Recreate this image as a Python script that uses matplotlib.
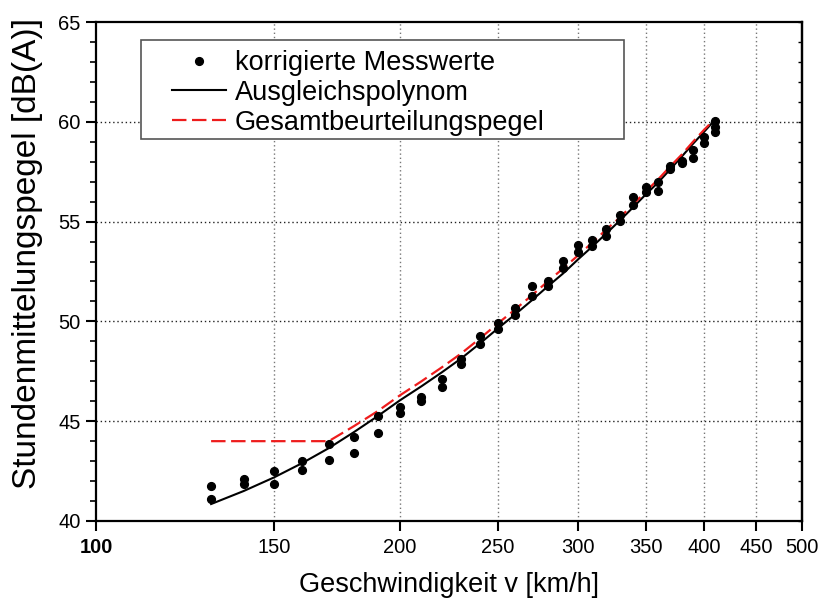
import numpy as np
import matplotlib
matplotlib.use('Agg')
import matplotlib.pyplot as plt
from matplotlib.patches import Rectangle
from matplotlib.ticker import FixedLocator, NullFormatter, MultipleLocator

plt.rcParams['font.family'] = ['Liberation Sans', 'DejaVu Sans']

v_mess = [130, 130, 140, 140, 150, 150, 160, 160, 170, 170, 180, 180, 190, 190,
          200, 200, 210, 210, 220, 220, 230, 230, 240, 240, 250, 250, 260, 260,
          270, 270, 280, 280, 290, 290, 300, 300, 310, 310, 320, 320, 330, 330,
          340, 340, 350, 350, 360, 360, 370, 370, 380, 380, 390, 390, 400, 400,
          410, 410, 410]
L_mess = [41.75, 41.08, 42.12, 41.87, 42.50, 41.85, 43.00, 42.58, 43.87, 43.08,
          44.22, 43.42, 45.27, 44.43, 45.72, 45.43, 46.22, 46.00, 47.10, 46.73,
          48.13, 47.88, 49.27, 48.85, 49.93, 49.62, 50.67, 50.33, 51.78, 51.25,
          52.03, 51.75, 53.02, 52.70, 53.83, 53.47, 54.08, 53.80, 54.63, 54.27,
          55.32, 55.05, 56.23, 55.82, 56.75, 56.47, 56.98, 56.53, 57.78, 57.65,
          58.05, 57.95, 58.60, 58.20, 59.22, 58.92, 60.02, 59.75, 59.50]

# Ausgleichspolynom
v_fit = [130, 140, 150, 160, 170, 180, 190, 200, 210, 220, 230, 240, 250, 260,
         270, 280, 290, 300, 310, 320, 330, 340, 350, 360, 370, 380, 390, 400, 410]
L_fit = [40.85, 41.50, 42.18, 42.90, 43.65, 44.45, 45.25, 46.05, 46.75, 47.45,
         48.15, 48.90, 49.65, 50.35, 51.05, 51.75, 52.40, 53.10, 53.75, 54.40,
         55.05, 55.70, 56.35, 56.95, 57.60, 58.25, 58.90, 59.50, 60.10]

# Gesamtbeurteilungspegel
v_ges = [130, 170, 180, 190, 200, 210, 220, 230, 240, 250, 260, 270, 280, 290,
         300, 310, 320, 330, 340, 350, 360, 370, 380, 390, 400, 410]
L_ges = [44.00, 44.00, 44.75, 45.50, 46.30, 47.00, 47.70, 48.40, 49.15, 49.90,
         50.60, 51.30, 52.00, 52.65, 53.30, 53.95, 54.60, 55.20, 55.85, 56.50,
         57.10, 57.75, 58.35, 59.00, 59.60, 60.15]

x_ticks = [100, 150, 200, 250, 300, 350, 400, 450, 500]

fig = plt.figure(figsize=(8.2, 5.99), dpi=100)
ax = fig.add_axes([96 / 820, 1 - 521 / 599, 706 / 820, 499 / 599])

ax.plot(v_mess, L_mess, 'o', color='black', markersize=5.6, label='korrigierte Messwerte', zorder=4)
ax.plot(v_fit, L_fit, '-', color='black', linewidth=1.5, label='Ausgleichspolynom', zorder=3)
ax.plot(v_ges, L_ges, '--', color='#ee1c1c', linewidth=1.6, dashes=(6.5, 2.5),
        label='Gesamtbeurteilungspegel', zorder=3)

ax.set_xscale('log')
ax.set_xlim(100, 500)
ax.set_ylim(40, 65)

ax.xaxis.set_major_locator(FixedLocator(x_ticks))
ax.xaxis.set_minor_locator(FixedLocator([]))
ax.xaxis.set_minor_formatter(NullFormatter())
ax.set_xticklabels([str(t) for t in x_ticks])
ax.get_xticklabels()[0].set_fontweight('bold')
ax.yaxis.set_major_locator(MultipleLocator(5))
ax.yaxis.set_minor_locator(MultipleLocator(1))

ax.tick_params(axis='x', which='major', direction='out', length=7, width=1.5,
               labelsize=14.5, pad=5)
ax.tick_params(axis='y', which='major', direction='out', length=7, width=1.5,
               labelsize=14.5, pad=4)
ax.tick_params(axis='y', which='minor', direction='out', length=4, width=1.2)

# small inward ticks on the right frame
sec = ax.secondary_yaxis('right')
sec.yaxis.set_major_locator(MultipleLocator(5))
sec.yaxis.set_minor_locator(MultipleLocator(1))
sec.tick_params(which='both', direction='in', length=3, width=1.0, labelright=False)
sec.spines['right'].set_linewidth(1.6)

for s in ax.spines.values():
    s.set_linewidth(1.6)

for t in x_ticks[1:-1]:
    ax.axvline(t, color='#777777', linestyle=(0, (1, 2)), linewidth=1.0, zorder=1)
for t in [45, 50, 55, 60]:
    ax.axhline(t, color='#222222', linestyle=(0, (1, 2)), linewidth=1.0, zorder=1)

ax.set_xlabel('Geschwindigkeit v [km/h]', fontsize=19.5, labelpad=11)
ax.set_ylabel('Stundenmittelungspegel [dB(A)]', fontsize=24)
ax.yaxis.set_label_coords(-0.075, 0.537)

# legend frame drawn separately so the entries can sit inside it like the original
box = Rectangle((141 / 820, 1 - 139 / 599), 483 / 820, 99 / 599, transform=fig.transFigure,
                facecolor='white', edgecolor='#555555', linewidth=1.2, zorder=6)
ax.add_patch(box)
leg = ax.legend(loc='upper left', bbox_to_anchor=((172 - 96) / 706, (521 - 50) / 499),
                fontsize=19.5, frameon=False, borderpad=0, labelspacing=0.14,
                handlelength=2.0, handletextpad=0.33, borderaxespad=0, numpoints=1)
leg.set_zorder(7)

fig.savefig('out.png', dpi=100)
